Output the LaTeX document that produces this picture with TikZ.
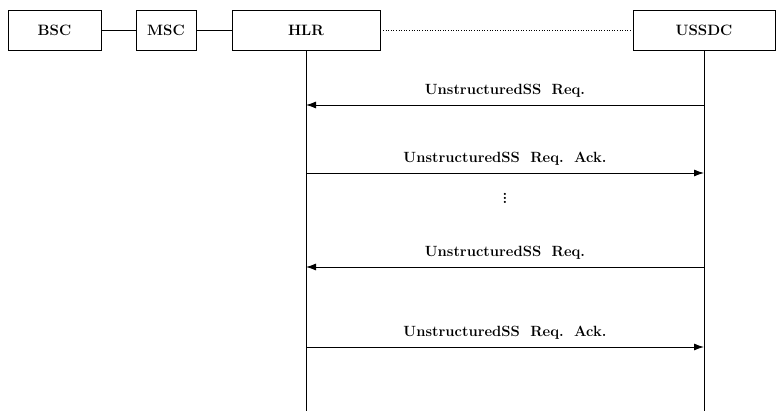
\documentclass[tikz,border=0pt]{standalone}
\usepackage{amsmath}
\usepackage{tikz}
\usetikzlibrary{arrows.meta}

\tikzset{
  entity/.style={draw, line width=0.9pt, minimum height=40pt, inner sep=0pt, font=\fontsize{15}{17}\selectfont\bfseries},
  msg/.style={line width=0.9pt, -{Latex[length=10pt,width=7pt]}},
  msglabel/.style={font=\fontsize{14.8}{17}\selectfont\bfseries}
}
\newcommand{\wgap}{\hspace{0.7em}}

\begin{document}
\begin{tikzpicture}[x=1pt,y=-1pt]
        \useasboundingbox (0,0) rectangle (777,411);
        % entities
        \node[entity, minimum width=93pt] (bsc) at (54.5,30) {BSC};
        \node[entity, minimum width=60pt] (msc) at (166,30) {MSC};
        \node[entity, minimum width=148pt] (hlr) at (306,30) {HLR};
        \node[entity, minimum width=142pt] (ussdc) at (704,30) {USSDC};
        \draw[line width=0.9pt] (bsc) -- (msc);
        \draw[line width=0.9pt] (msc) -- (hlr);
        \draw[line width=0.6pt, dotted] (hlr) -- (ussdc);
        % lifelines
        \coordinate (hlrend) at (306,411);
        \coordinate (ussdcend) at (704,411);
        \draw[line width=0.9pt] (hlr.south) -- (hlrend);
        \draw[line width=0.9pt] (ussdc.south) -- (ussdcend);
        % messages
        \coordinate (u1) at (704,105);
        \coordinate (h1) at (306,105);
        \coordinate (h2) at (306,173);
        \coordinate (u2) at (704,173);
        \coordinate (u3) at (704,267);
        \coordinate (h3) at (306,267);
        \coordinate (h4) at (306,347);
        \coordinate (u4) at (704,347);
        \draw[msg] (u1) -- node[msglabel, above=4pt] {UnstructuredSS\wgap Req.} (h1);
        \draw[msg] (h2) -- node[msglabel, above=4pt] {UnstructuredSS\wgap Req.\wgap Ack.} (u2);
        \node[font=\fontsize{15}{17}\selectfont\bfseries] (dots) at (505,195) {$\vdots$};
        \draw[msg] (u3) -- node[msglabel, above=4pt] {UnstructuredSS\wgap Req.} (h3);
        \draw[msg] (h4) -- node[msglabel, above=4pt] {UnstructuredSS\wgap Req.\wgap Ack.} (u4);
    \end{tikzpicture}
\end{document}
